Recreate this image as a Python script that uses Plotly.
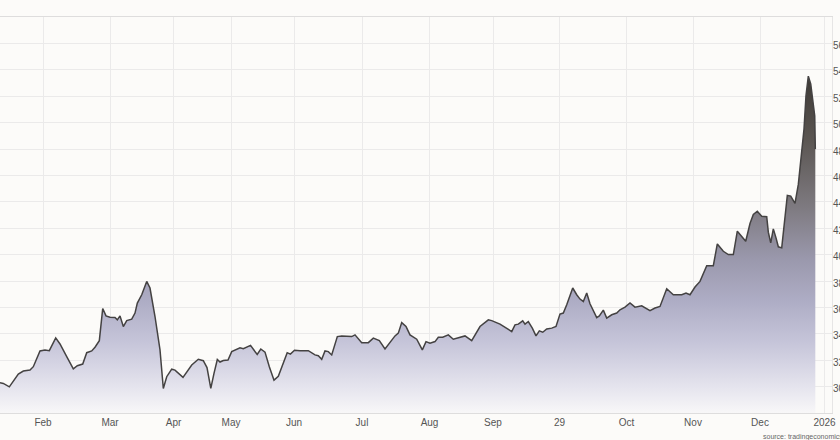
import plotly.graph_objects as go

# Session index (trading-day position along the time axis)
session = [0, 0.83, 2.33, 3.75, 4.58, 5.83, 7.5, 8.33, 10, 11.25, 12.33, 13.93, 15, 16.68, 18.33,
           19.33, 20.68, 21.68, 22.93, 23.75, 24.83, 25.68, 26.5, 27.5, 28.75, 29.33, 30, 30.83,
           31.68, 32.93, 33.75, 34.33, 35.43, 36.68, 37.5, 38.75, 40, 40.83, 41.68, 42.93, 43.75,
           45.75, 46.68, 47.93, 49.58, 50.83, 51.75, 52.7, 53.5, 54.33, 55, 55.83, 57, 57.93, 60,
           60.83, 62.63, 64.3, 65.2, 66.25, 67.33, 68.5, 69.58, 71.8, 72.6, 73.63, 75, 77.08, 78.75,
           79.58, 80.43, 81.25, 82.08, 82.93, 84.33, 85.43, 87.93, 88.75, 90.43, 91.5, 92.08, 93.33,
           94.83, 96.25, 98.75, 99.58, 100.43, 101.5, 102.5, 104.18, 105.58, 106.5, 107.5, 108.75,
           109.58, 110.68, 112.08, 113.33, 115, 116.25, 117.93, 120, 122.08, 122.93, 125, 126.25,
           127.93, 128.75, 129.58, 130.68, 131.25, 132.08, 133.08, 134, 134.83, 135.68, 136.68,
           137.93, 139, 140, 140.83, 141.68, 143.18, 144.18, 145, 145.83, 146.68, 147.5, 149.18,
           149.83, 150.83, 151.68, 152.93, 154.18, 155, 156.25, 157.5, 158.75, 160.43, 162.5,
           163.75, 165, 166.68, 168.33, 170.43, 171.5, 172.5, 173.75, 175, 176.68, 178.33, 179.33,
           180.83, 182.08, 183.33, 184.33, 185.43, 186.43, 187.5, 188.33, 189.33, 190.43, 191.68,
           192.08, 192.68, 193.33, 194, 194.58, 195.43, 196.25, 196.83, 197.68, 198.75, 199.58,
           200.43, 201, 201.5, 202.08, 202.68, 203.18, 203.68, 203.83]

price = [30.29, 30.24, 29.98, 30.62, 30.95, 31.18, 31.25, 31.51, 32.70, 32.78, 32.72, 33.69, 33.23,
         32.27, 31.35, 31.58, 31.71, 32.57, 32.70, 32.98, 33.48, 35.92, 35.36, 35.26, 35.23, 35.06,
         35.36, 34.55, 35.00, 35.11, 35.57, 36.33, 36.96, 37.97, 37.47, 35.31, 32.78, 29.86, 30.75,
         31.32, 31.25, 30.70, 31.13, 31.64, 32.07, 31.96, 31.44, 29.86, 31.00, 32.05, 31.86, 31.98,
         32.02, 32.65, 32.94, 32.87, 33.12, 32.43, 32.85, 32.61, 31.51, 30.49, 30.78, 32.57, 32.46,
         32.75, 32.72, 32.72, 32.40, 32.34, 32.07, 32.70, 32.65, 32.40, 33.79, 33.84, 33.79, 33.92,
         33.33, 33.36, 33.33, 33.67, 33.48, 32.85, 33.84, 34.05, 34.85, 34.55, 33.92, 33.59, 32.78,
         33.41, 33.29, 33.41, 33.74, 33.74, 33.92, 33.59, 33.76, 33.84, 33.48, 34.55, 35.06, 35.00,
         34.73, 34.47, 34.17, 34.68, 34.73, 34.98, 34.73, 34.93, 34.43, 33.84, 34.22, 34.12, 34.37,
         34.43, 34.55, 35.49, 35.57, 36.20, 37.47, 36.96, 36.63, 36.45, 37.09, 36.27, 35.23, 35.36,
         35.79, 35.19, 35.44, 35.57, 35.82, 36.02, 36.33, 36.02, 36.12, 35.76, 35.95, 36.07, 37.41,
         36.96, 36.96, 37.09, 36.96, 37.54, 37.97, 39.16, 39.16, 40.81, 40.25, 40.00, 40.00, 41.77,
         41.35, 41.01, 42.36, 43.04, 43.29, 42.91, 42.87, 41.70, 40.89, 41.95, 41.27, 40.59, 40.51,
         42.66, 44.49, 44.43, 43.88, 45.32, 47.73, 49.51, 52.04, 53.52, 52.93, 51.79, 50.52, 47.99]

tick_pos = [10.75, 27.5, 43.38, 57.75, 73.5, 90.5, 107.38, 123.25, 139.88, 156.63, 173.25, 190, 206.13]
tick_labels = ["Feb", "Mar", "Apr", "May", "Jun", "Jul", "Aug", "Sep", "29", "Oct", "Nov", "Dec", "2026"]

y_ticks = list(range(28, 59, 2))
y_labels = ["" if v in (28, 58) else str(v) for v in y_ticks]

BG = "#fcfbf9"
GRID = "#ebeaea"
FONT = "Liberation Sans, Arial, sans-serif"

fig = go.Figure()
fig.add_trace(go.Scatter(
    x=session, y=price, mode="lines",
    line=dict(color="#444242", width=1.5),
    fill="tozeroy",
    fillgradient=dict(
        type="vertical", start=28, stop=54,
        colorscale=[[0.0, "#f8f7f8"], [0.08, "#e4e3ed"], [0.2, "#c7c6da"],
                    [0.32, "#afaec6"], [0.45, "#9a98ac"], [0.6, "#7e7a80"],
                    [0.8, "#5a5551"], [1.0, "#3a3632"]]),
    hoverinfo="skip", showlegend=False,
))

fig.update_layout(
    width=840, height=440,
    margin=dict(l=0, r=8, t=17, b=27, autoexpand=False),
    paper_bgcolor=BG, plot_bgcolor=BG,
    font=dict(family=FONT, size=10, color="#555555"),
    xaxis=dict(range=[0, 208], tickvals=tick_pos, ticktext=tick_labels, automargin=False,
               showgrid=True, gridcolor=GRID, gridwidth=1, zeroline=False,
               showline=True, linecolor="#dedddd", mirror=True, ticks="",
               tickfont=dict(size=10, color="#555555")),
    yaxis=dict(range=[28, 58], side="right", tickvals=y_ticks, ticktext=y_labels,
               automargin=False, ticklabelstandoff=-2, ticklabelshift=2,
               showgrid=True, gridcolor=GRID, gridwidth=1, zeroline=False,
               showline=True, linecolor="#e6e5e5", mirror=True, ticks="",
               tickfont=dict(size=10, color="#555555")),
    annotations=[dict(text="source: tradingeconomics.com", xref="paper", yref="paper",
                      x=0.9147, y=0, xanchor="left", yanchor="top", yshift=-18,
                      showarrow=False, font=dict(size=7, color="#666666"))],
)

fig.write_html("out.html", config={"displayModeBar": False},
               post_script="document.body.style.margin='0';document.body.style.overflow='hidden';"
                           "document.body.style.background='" + BG + "';")
